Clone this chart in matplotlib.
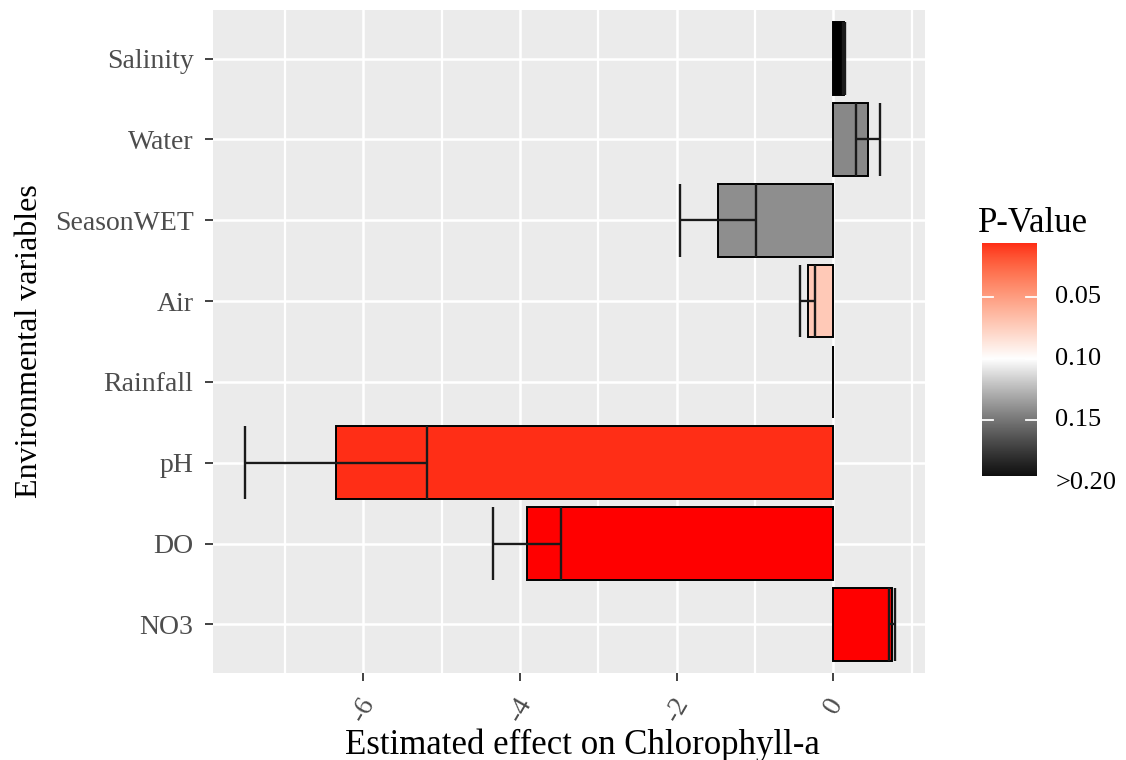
import numpy as np
import matplotlib
matplotlib.use("Agg")
import matplotlib.pyplot as plt
from matplotlib.colors import ListedColormap, Normalize
from matplotlib.ticker import FixedLocator

# ---- data (top to bottom as shown) ----
variables = ["Salinity", "Water", "SeasonWET", "Air", "Rainfall", "pH", "DO", "NO3"]
estimates = [0.14, 0.446, -1.47, -0.33, -0.004, -6.35, -3.91, 0.745]
ci_half = [0.015, 0.153, 0.485, 0.09, 0.0, 1.16, 0.43, 0.04]
p_values = [0.20, 0.143, 0.141, 0.072, 0.20, 0.006, 0.0, 0.0]
x_ticks = [-6, -4, -2, 0]
x_ticklabels = ["-6", "-4", "-2", "0"]
cbar_ticks = [0.05, 0.10, 0.15]
cbar_labels = ["0.05", "0.10", "0.15"]

plt.rcParams['font.family'] = ['Liberation Serif', 'DejaVu Serif']

# ---- ggplot-like gradient2 (red - white - black, Lab interpolation) ----
def lab_to_rgb(L, a, b):
    fy = (L + 16) / 116.0
    fx = fy + a / 500.0
    fz = fy - b / 200.0
    def finv(t):
        d = 6 / 29
        return np.where(t > d, t ** 3, 3 * d * d * (t - 4 / 29))
    X = 0.95047 * finv(fx)
    Y = 1.0 * finv(fy)
    Z = 1.08883 * finv(fz)
    r = 3.2406 * X - 1.5372 * Y - 0.4986 * Z
    g = -0.9689 * X + 1.8758 * Y + 0.0415 * Z
    bb = 0.0557 * X - 0.2040 * Y + 1.0570 * Z
    out = []
    for c in (r, g, bb):
        c = np.clip(c, 0, 1)
        c = np.where(c > 0.0031308, 1.055 * np.power(c, 1 / 2.4) - 0.055, 12.92 * c)
        out.append(np.clip(c, 0, 1))
    return np.stack(out, axis=-1)

red_lab = np.array([53.2408, 80.0925, 67.2032])
white_lab = np.array([100.0, 0.0, 0.0])
black_lab = np.array([0.0, 0.0, 0.0])
tt = np.linspace(0, 1, 512)
labs = []
for t in tt:
    if t <= 0.5:
        s = t / 0.5
        labs.append(red_lab + (white_lab - red_lab) * s)
    else:
        s = (t - 0.5) / 0.5
        labs.append(white_lab + (black_lab - white_lab) * s)
labs = np.array(labs)
rgb = lab_to_rgb(labs[:, 0], labs[:, 1], labs[:, 2])
cmap = ListedColormap(rgb)
norm = Normalize(vmin=0.0, vmax=0.2)

# ---- figure ----
W, H = 1126, 760
fig = plt.figure(figsize=(W / 100, H / 100), dpi=100)
ax = fig.add_axes([213 / W, 1 - 673 / H, (925 - 213) / W, (673 - 10) / H])
ax.set_facecolor('#EBEBEB')

n = len(variables)
ypos = np.arange(n, 0, -1)  # Salinity at top
colors = [cmap(norm(p)) for p in p_values]

ax.barh(ypos, estimates, height=0.9, color=colors, edgecolor='black',
        linewidth=1.4, zorder=3)
bh = 0.45
for y, e, c in zip(ypos, estimates, ci_half):
    if c <= 0:
        continue
    ax.plot([e - c, e + c], [y, y], color='#1a1a1a', lw=1.7, zorder=4,
            solid_capstyle='butt')
    ax.plot([e - c, e - c], [y - bh, y + bh], color='#1a1a1a', lw=1.7, zorder=4,
            solid_capstyle='butt')
    ax.plot([e + c, e + c], [y - bh, y + bh], color='#1a1a1a', lw=1.7, zorder=4,
            solid_capstyle='butt')

ax.set_xlim(-7.92, 1.17)
ax.set_ylim(0.4, n + 0.6)
ax.xaxis.set_major_locator(FixedLocator(x_ticks))
ax.xaxis.set_minor_locator(FixedLocator([-7, -5, -3, -1, 1]))
ax.set_xticklabels(x_ticklabels, rotation=60, ha='center', va='top')
ax.set_yticks(ypos)
ax.set_yticklabels(variables)
ax.grid(which='major', color='white', linewidth=1.8, zorder=0)
ax.grid(which='minor', axis='x', color='white', linewidth=1.6, zorder=0)
ax.set_axisbelow(True)
for s in ax.spines.values():
    s.set_visible(False)
ax.tick_params(axis='both', which='major', length=6, width=1.3, color='#333333',
               labelcolor='#4D4D4D', labelsize=20)
ax.tick_params(axis='y', which='major', pad=8)
ax.tick_params(axis='x', which='major', pad=9)
ax.tick_params(axis='x', which='minor', length=0)
fig.text(582 / W, 1 - 745 / H, "Estimated effect on Chlorophyll-a", fontsize=25,
         color='black', ha='center', va='center')
ax.set_ylabel("Environmental variables", fontsize=23, color='black', labelpad=8)

# ---- colorbar legend ----
cax = fig.add_axes([982 / W, 1 - 476 / H, 55 / W, 233 / H])
vmin_bar, vmax_bar = 0.006, 0.1955
grad = np.linspace(vmin_bar, vmax_bar, 300).reshape(-1, 1)
cax.imshow(grad, aspect='auto', cmap=cmap, norm=norm,
           extent=[0, 1, vmax_bar, vmin_bar], interpolation='bilinear')
cax.set_xlim(0, 1)
cax.set_ylim(vmax_bar, vmin_bar)
for s in cax.spines.values():
    s.set_visible(False)
cax.set_xticks([])
cax.set_yticks([])
for tv in cbar_ticks:
    cax.plot([0, 0.2], [tv, tv], color='white', lw=1.3)
    cax.plot([0.8, 1.0], [tv, tv], color='white', lw=1.3)
for tv, lab in zip(cbar_ticks, cbar_labels):
    cax.text(1.33, tv, lab, transform=cax.get_yaxis_transform(), ha='left',
             va='center', fontsize=19, color='black', clip_on=False)
cax.text(1.33, 0.2015, ">0.20", transform=cax.get_yaxis_transform(), ha='left',
         va='center', fontsize=19, color='black', clip_on=False)
fig.text(978 / W, 1 - 224 / H, "P-Value", ha='left', va='center', fontsize=25,
         color='black')

fig.savefig("out.png", dpi=100, facecolor='white')
